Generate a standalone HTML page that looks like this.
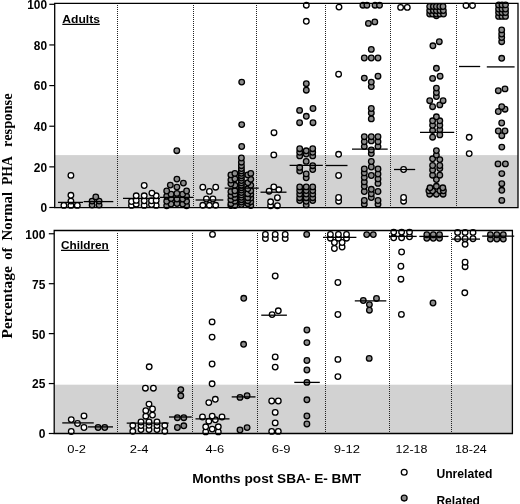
<!DOCTYPE html><html><head><meta charset="utf-8"><style>html,body{margin:0;padding:0;background:#fff;}body{width:520px;height:504px;overflow:hidden;}svg{display:block;filter:grayscale(1);}.s{font-family:"Liberation Sans",sans-serif;}.b{font-family:"Liberation Sans",sans-serif;font-weight:bold;}</style></head><body>
<svg width="520" height="504" viewBox="0 0 520 504">
<rect x="0" y="0" width="520" height="504" fill="#fff"/>
<rect x="54.7" y="155.1" width="463.3" height="52.5" fill="#d2d2d2"/>
<rect x="54.2" y="384.7" width="458.2" height="48.8" fill="#d2d2d2"/>
<line x1="117.5" y1="5" x2="117.5" y2="207.6" stroke="#222" stroke-width="1" stroke-dasharray="1 1"/>
<line x1="193.5" y1="5" x2="193.5" y2="207.6" stroke="#222" stroke-width="1" stroke-dasharray="1 1"/>
<line x1="256.5" y1="5" x2="256.5" y2="207.6" stroke="#222" stroke-width="1" stroke-dasharray="1 1"/>
<line x1="325.5" y1="5" x2="325.5" y2="207.6" stroke="#222" stroke-width="1" stroke-dasharray="1 1"/>
<line x1="390.5" y1="5" x2="390.5" y2="207.6" stroke="#222" stroke-width="1" stroke-dasharray="1 1"/>
<line x1="456.5" y1="5" x2="456.5" y2="207.6" stroke="#222" stroke-width="1" stroke-dasharray="1 1"/>
<line x1="117.5" y1="233.0" x2="117.5" y2="433.5" stroke="#222" stroke-width="1" stroke-dasharray="1 1"/>
<line x1="192.5" y1="233.0" x2="192.5" y2="433.5" stroke="#222" stroke-width="1" stroke-dasharray="1 1"/>
<line x1="257.5" y1="233.0" x2="257.5" y2="433.5" stroke="#222" stroke-width="1" stroke-dasharray="1 1"/>
<line x1="325.5" y1="233.0" x2="325.5" y2="433.5" stroke="#222" stroke-width="1" stroke-dasharray="1 1"/>
<line x1="389.5" y1="233.0" x2="389.5" y2="433.5" stroke="#222" stroke-width="1" stroke-dasharray="1 1"/>
<line x1="451.5" y1="233.0" x2="451.5" y2="433.5" stroke="#222" stroke-width="1" stroke-dasharray="1 1"/>
<circle cx="240" cy="430" r="2.8" fill="#8c8c8c" stroke="#000" stroke-width="1.3"/>
<circle cx="247.1" cy="427.6" r="2.8" fill="#8c8c8c" stroke="#000" stroke-width="1.3"/>
<circle cx="98.1" cy="427.5" r="2.8" fill="#8c8c8c" stroke="#000" stroke-width="1.3"/>
<circle cx="104.75" cy="427.5" r="2.8" fill="#8c8c8c" stroke="#000" stroke-width="1.3"/>
<circle cx="177.4" cy="427.5" r="2.8" fill="#8c8c8c" stroke="#000" stroke-width="1.3"/>
<circle cx="183.8" cy="425.8" r="2.8" fill="#8c8c8c" stroke="#000" stroke-width="1.3"/>
<circle cx="306.9" cy="424" r="2.8" fill="#8c8c8c" stroke="#000" stroke-width="1.3"/>
<circle cx="177.4" cy="417.7" r="2.8" fill="#8c8c8c" stroke="#000" stroke-width="1.3"/>
<circle cx="183.8" cy="417.7" r="2.8" fill="#8c8c8c" stroke="#000" stroke-width="1.3"/>
<circle cx="306.9" cy="416" r="2.8" fill="#8c8c8c" stroke="#000" stroke-width="1.3"/>
<circle cx="306.9" cy="399.8" r="2.8" fill="#8c8c8c" stroke="#000" stroke-width="1.3"/>
<circle cx="240" cy="397.4" r="2.8" fill="#8c8c8c" stroke="#000" stroke-width="1.3"/>
<circle cx="180.8" cy="395.8" r="2.8" fill="#8c8c8c" stroke="#000" stroke-width="1.3"/>
<circle cx="247.1" cy="395.7" r="2.8" fill="#8c8c8c" stroke="#000" stroke-width="1.3"/>
<circle cx="180.8" cy="389.6" r="2.8" fill="#8c8c8c" stroke="#000" stroke-width="1.3"/>
<circle cx="306.9" cy="382.4" r="2.8" fill="#8c8c8c" stroke="#000" stroke-width="1.3"/>
<circle cx="306.9" cy="370" r="2.8" fill="#8c8c8c" stroke="#000" stroke-width="1.3"/>
<circle cx="306.9" cy="360.5" r="2.8" fill="#8c8c8c" stroke="#000" stroke-width="1.3"/>
<circle cx="369.2" cy="358.4" r="2.8" fill="#8c8c8c" stroke="#000" stroke-width="1.3"/>
<circle cx="243.6" cy="344.3" r="2.8" fill="#8c8c8c" stroke="#000" stroke-width="1.3"/>
<circle cx="306.9" cy="342.6" r="2.8" fill="#8c8c8c" stroke="#000" stroke-width="1.3"/>
<circle cx="306.9" cy="330" r="2.8" fill="#8c8c8c" stroke="#000" stroke-width="1.3"/>
<circle cx="369.4" cy="310.2" r="2.8" fill="#8c8c8c" stroke="#000" stroke-width="1.3"/>
<circle cx="369.4" cy="304.6" r="2.8" fill="#8c8c8c" stroke="#000" stroke-width="1.3"/>
<circle cx="433" cy="303" r="2.8" fill="#8c8c8c" stroke="#000" stroke-width="1.3"/>
<circle cx="363.3" cy="300.5" r="2.8" fill="#8c8c8c" stroke="#000" stroke-width="1.3"/>
<circle cx="376.5" cy="298.5" r="2.8" fill="#8c8c8c" stroke="#000" stroke-width="1.3"/>
<circle cx="243.75" cy="298.3" r="2.8" fill="#8c8c8c" stroke="#000" stroke-width="1.3"/>
<circle cx="490.4" cy="239.1" r="2.8" fill="#8c8c8c" stroke="#000" stroke-width="1.3"/>
<circle cx="496.8" cy="239.1" r="2.8" fill="#8c8c8c" stroke="#000" stroke-width="1.3"/>
<circle cx="503.3" cy="239.1" r="2.8" fill="#8c8c8c" stroke="#000" stroke-width="1.3"/>
<circle cx="426.8" cy="238.3" r="2.8" fill="#8c8c8c" stroke="#000" stroke-width="1.3"/>
<circle cx="433.3" cy="238.3" r="2.8" fill="#8c8c8c" stroke="#000" stroke-width="1.3"/>
<circle cx="439.5" cy="238.3" r="2.8" fill="#8c8c8c" stroke="#000" stroke-width="1.3"/>
<circle cx="426.8" cy="234.7" r="2.8" fill="#8c8c8c" stroke="#000" stroke-width="1.3"/>
<circle cx="433.3" cy="234.7" r="2.8" fill="#8c8c8c" stroke="#000" stroke-width="1.3"/>
<circle cx="439.5" cy="234.7" r="2.8" fill="#8c8c8c" stroke="#000" stroke-width="1.3"/>
<circle cx="490.4" cy="234.7" r="2.8" fill="#8c8c8c" stroke="#000" stroke-width="1.3"/>
<circle cx="496.8" cy="234.7" r="2.8" fill="#8c8c8c" stroke="#000" stroke-width="1.3"/>
<circle cx="503.3" cy="234.7" r="2.8" fill="#8c8c8c" stroke="#000" stroke-width="1.3"/>
<circle cx="366.7" cy="234.6" r="2.8" fill="#8c8c8c" stroke="#000" stroke-width="1.3"/>
<circle cx="373.3" cy="234.6" r="2.8" fill="#8c8c8c" stroke="#000" stroke-width="1.3"/>
<circle cx="306.7" cy="234.4" r="2.8" fill="#8c8c8c" stroke="#000" stroke-width="1.3"/>
<circle cx="166.7" cy="205.7" r="2.8" fill="#8c8c8c" stroke="#000" stroke-width="1.3"/>
<circle cx="186.6" cy="205.7" r="2.8" fill="#8c8c8c" stroke="#000" stroke-width="1.3"/>
<circle cx="230.9" cy="205.6" r="2.8" fill="#8c8c8c" stroke="#000" stroke-width="1.3"/>
<circle cx="234.9" cy="205.6" r="2.8" fill="#8c8c8c" stroke="#000" stroke-width="1.3"/>
<circle cx="250.8" cy="205.6" r="2.8" fill="#8c8c8c" stroke="#000" stroke-width="1.3"/>
<circle cx="92.1" cy="205.1" r="2.8" fill="#8c8c8c" stroke="#000" stroke-width="1.3"/>
<circle cx="99.1" cy="205.1" r="2.8" fill="#8c8c8c" stroke="#000" stroke-width="1.3"/>
<circle cx="306.2" cy="204.9" r="2.8" fill="#8c8c8c" stroke="#000" stroke-width="1.3"/>
<circle cx="241.4" cy="204.50000000000009" r="2.8" fill="#8c8c8c" stroke="#000" stroke-width="1.3"/>
<circle cx="364.3" cy="204.2" r="2.8" fill="#8c8c8c" stroke="#000" stroke-width="1.3"/>
<circle cx="378" cy="204.2" r="2.8" fill="#8c8c8c" stroke="#000" stroke-width="1.3"/>
<circle cx="171.1" cy="204.1" r="2.8" fill="#8c8c8c" stroke="#000" stroke-width="1.3"/>
<circle cx="182.6" cy="204.1" r="2.8" fill="#8c8c8c" stroke="#000" stroke-width="1.3"/>
<circle cx="230.9" cy="203.7" r="2.8" fill="#8c8c8c" stroke="#000" stroke-width="1.3"/>
<circle cx="247.8" cy="203.7" r="2.8" fill="#8c8c8c" stroke="#000" stroke-width="1.3"/>
<circle cx="177" cy="203.5" r="2.8" fill="#8c8c8c" stroke="#000" stroke-width="1.3"/>
<circle cx="241.4" cy="202.10000000000008" r="2.8" fill="#8c8c8c" stroke="#000" stroke-width="1.3"/>
<circle cx="250.8" cy="201.7" r="2.8" fill="#8c8c8c" stroke="#000" stroke-width="1.3"/>
<circle cx="166.7" cy="201.3" r="2.8" fill="#8c8c8c" stroke="#000" stroke-width="1.3"/>
<circle cx="186.6" cy="201.3" r="2.8" fill="#8c8c8c" stroke="#000" stroke-width="1.3"/>
<circle cx="306.2" cy="201.3" r="2.8" fill="#8c8c8c" stroke="#000" stroke-width="1.3"/>
<circle cx="234.9" cy="201.2" r="2.8" fill="#8c8c8c" stroke="#000" stroke-width="1.3"/>
<circle cx="92.1" cy="201.1" r="2.8" fill="#8c8c8c" stroke="#000" stroke-width="1.3"/>
<circle cx="99.1" cy="201.1" r="2.8" fill="#8c8c8c" stroke="#000" stroke-width="1.3"/>
<circle cx="247.8" cy="200.7" r="2.8" fill="#8c8c8c" stroke="#000" stroke-width="1.3"/>
<circle cx="299.7" cy="200.6" r="2.8" fill="#8c8c8c" stroke="#000" stroke-width="1.3"/>
<circle cx="312.7" cy="200.6" r="2.8" fill="#8c8c8c" stroke="#000" stroke-width="1.3"/>
<circle cx="364.3" cy="200.5" r="2.8" fill="#8c8c8c" stroke="#000" stroke-width="1.3"/>
<circle cx="378" cy="200.5" r="2.8" fill="#8c8c8c" stroke="#000" stroke-width="1.3"/>
<circle cx="501.8" cy="200.4" r="2.8" fill="#8c8c8c" stroke="#000" stroke-width="1.3"/>
<circle cx="241.4" cy="199.70000000000007" r="2.8" fill="#8c8c8c" stroke="#000" stroke-width="1.3"/>
<circle cx="230.9" cy="199.7" r="2.8" fill="#8c8c8c" stroke="#000" stroke-width="1.3"/>
<circle cx="177" cy="199" r="2.8" fill="#8c8c8c" stroke="#000" stroke-width="1.3"/>
<circle cx="182.6" cy="199" r="2.8" fill="#8c8c8c" stroke="#000" stroke-width="1.3"/>
<circle cx="171.1" cy="198.6" r="2.8" fill="#8c8c8c" stroke="#000" stroke-width="1.3"/>
<circle cx="250.8" cy="198" r="2.8" fill="#8c8c8c" stroke="#000" stroke-width="1.3"/>
<circle cx="234.9" cy="197.7" r="2.8" fill="#8c8c8c" stroke="#000" stroke-width="1.3"/>
<circle cx="247.8" cy="197.7" r="2.8" fill="#8c8c8c" stroke="#000" stroke-width="1.3"/>
<circle cx="299.7" cy="197.7" r="2.8" fill="#8c8c8c" stroke="#000" stroke-width="1.3"/>
<circle cx="306.2" cy="197.7" r="2.8" fill="#8c8c8c" stroke="#000" stroke-width="1.3"/>
<circle cx="312.7" cy="197.7" r="2.8" fill="#8c8c8c" stroke="#000" stroke-width="1.3"/>
<circle cx="371.3" cy="197.5" r="2.8" fill="#8c8c8c" stroke="#000" stroke-width="1.3"/>
<circle cx="241.4" cy="197.30000000000007" r="2.8" fill="#8c8c8c" stroke="#000" stroke-width="1.3"/>
<circle cx="95.8" cy="196.9" r="2.8" fill="#8c8c8c" stroke="#000" stroke-width="1.3"/>
<circle cx="166.7" cy="196.2" r="2.8" fill="#8c8c8c" stroke="#000" stroke-width="1.3"/>
<circle cx="186.6" cy="196.2" r="2.8" fill="#8c8c8c" stroke="#000" stroke-width="1.3"/>
<circle cx="230.9" cy="195.7" r="2.8" fill="#8c8c8c" stroke="#000" stroke-width="1.3"/>
<circle cx="241.4" cy="194.90000000000006" r="2.8" fill="#8c8c8c" stroke="#000" stroke-width="1.3"/>
<circle cx="171.1" cy="194.2" r="2.8" fill="#8c8c8c" stroke="#000" stroke-width="1.3"/>
<circle cx="182.6" cy="194.2" r="2.8" fill="#8c8c8c" stroke="#000" stroke-width="1.3"/>
<circle cx="234.9" cy="194.2" r="2.8" fill="#8c8c8c" stroke="#000" stroke-width="1.3"/>
<circle cx="250.8" cy="194.2" r="2.8" fill="#8c8c8c" stroke="#000" stroke-width="1.3"/>
<circle cx="429.7" cy="194.2" r="2.8" fill="#8c8c8c" stroke="#000" stroke-width="1.3"/>
<circle cx="436.4" cy="194.2" r="2.8" fill="#8c8c8c" stroke="#000" stroke-width="1.3"/>
<circle cx="443.1" cy="194.2" r="2.8" fill="#8c8c8c" stroke="#000" stroke-width="1.3"/>
<circle cx="299.7" cy="194.1" r="2.8" fill="#8c8c8c" stroke="#000" stroke-width="1.3"/>
<circle cx="306.2" cy="194.1" r="2.8" fill="#8c8c8c" stroke="#000" stroke-width="1.3"/>
<circle cx="312.7" cy="194.1" r="2.8" fill="#8c8c8c" stroke="#000" stroke-width="1.3"/>
<circle cx="371.3" cy="193.8" r="2.8" fill="#8c8c8c" stroke="#000" stroke-width="1.3"/>
<circle cx="247.8" cy="193.7" r="2.8" fill="#8c8c8c" stroke="#000" stroke-width="1.3"/>
<circle cx="176.9" cy="193.4" r="2.8" fill="#8c8c8c" stroke="#000" stroke-width="1.3"/>
<circle cx="241.4" cy="192.50000000000006" r="2.8" fill="#8c8c8c" stroke="#000" stroke-width="1.3"/>
<circle cx="230.9" cy="191.7" r="2.8" fill="#8c8c8c" stroke="#000" stroke-width="1.3"/>
<circle cx="364.3" cy="191.5" r="2.8" fill="#8c8c8c" stroke="#000" stroke-width="1.3"/>
<circle cx="378" cy="191.5" r="2.8" fill="#8c8c8c" stroke="#000" stroke-width="1.3"/>
<circle cx="166.7" cy="191" r="2.8" fill="#8c8c8c" stroke="#000" stroke-width="1.3"/>
<circle cx="186.6" cy="191" r="2.8" fill="#8c8c8c" stroke="#000" stroke-width="1.3"/>
<circle cx="234.9" cy="190.8" r="2.8" fill="#8c8c8c" stroke="#000" stroke-width="1.3"/>
<circle cx="250.8" cy="190.8" r="2.8" fill="#8c8c8c" stroke="#000" stroke-width="1.3"/>
<circle cx="428.9" cy="190.8" r="2.8" fill="#8c8c8c" stroke="#000" stroke-width="1.3"/>
<circle cx="432.6" cy="190.8" r="2.8" fill="#8c8c8c" stroke="#000" stroke-width="1.3"/>
<circle cx="439.8" cy="190.8" r="2.8" fill="#8c8c8c" stroke="#000" stroke-width="1.3"/>
<circle cx="443.4" cy="190.8" r="2.8" fill="#8c8c8c" stroke="#000" stroke-width="1.3"/>
<circle cx="299.7" cy="190.5" r="2.8" fill="#8c8c8c" stroke="#000" stroke-width="1.3"/>
<circle cx="306.2" cy="190.5" r="2.8" fill="#8c8c8c" stroke="#000" stroke-width="1.3"/>
<circle cx="312.7" cy="190.5" r="2.8" fill="#8c8c8c" stroke="#000" stroke-width="1.3"/>
<circle cx="501.8" cy="190.3" r="2.8" fill="#8c8c8c" stroke="#000" stroke-width="1.3"/>
<circle cx="241.4" cy="190.10000000000005" r="2.8" fill="#8c8c8c" stroke="#000" stroke-width="1.3"/>
<circle cx="371.3" cy="189.3" r="2.8" fill="#8c8c8c" stroke="#000" stroke-width="1.3"/>
<circle cx="247.8" cy="188.8" r="2.8" fill="#8c8c8c" stroke="#000" stroke-width="1.3"/>
<circle cx="430" cy="187.8" r="2.8" fill="#8c8c8c" stroke="#000" stroke-width="1.3"/>
<circle cx="442.8" cy="187.8" r="2.8" fill="#8c8c8c" stroke="#000" stroke-width="1.3"/>
<circle cx="241.4" cy="187.70000000000005" r="2.8" fill="#8c8c8c" stroke="#000" stroke-width="1.3"/>
<circle cx="176.9" cy="187.1" r="2.8" fill="#8c8c8c" stroke="#000" stroke-width="1.3"/>
<circle cx="299.7" cy="186.9" r="2.8" fill="#8c8c8c" stroke="#000" stroke-width="1.3"/>
<circle cx="306.2" cy="186.9" r="2.8" fill="#8c8c8c" stroke="#000" stroke-width="1.3"/>
<circle cx="312.7" cy="186.9" r="2.8" fill="#8c8c8c" stroke="#000" stroke-width="1.3"/>
<circle cx="364.3" cy="186.3" r="2.8" fill="#8c8c8c" stroke="#000" stroke-width="1.3"/>
<circle cx="436.4" cy="186.3" r="2.8" fill="#8c8c8c" stroke="#000" stroke-width="1.3"/>
<circle cx="241.4" cy="185.30000000000004" r="2.8" fill="#8c8c8c" stroke="#000" stroke-width="1.3"/>
<circle cx="234.9" cy="185.3" r="2.8" fill="#8c8c8c" stroke="#000" stroke-width="1.3"/>
<circle cx="250.8" cy="185.3" r="2.8" fill="#8c8c8c" stroke="#000" stroke-width="1.3"/>
<circle cx="170.3" cy="185.1" r="2.8" fill="#8c8c8c" stroke="#000" stroke-width="1.3"/>
<circle cx="230.9" cy="183.8" r="2.8" fill="#8c8c8c" stroke="#000" stroke-width="1.3"/>
<circle cx="501.8" cy="183.7" r="2.8" fill="#8c8c8c" stroke="#000" stroke-width="1.3"/>
<circle cx="378" cy="183.4" r="2.8" fill="#8c8c8c" stroke="#000" stroke-width="1.3"/>
<circle cx="183.4" cy="183.1" r="2.8" fill="#8c8c8c" stroke="#000" stroke-width="1.3"/>
<circle cx="241.4" cy="182.90000000000003" r="2.8" fill="#8c8c8c" stroke="#000" stroke-width="1.3"/>
<circle cx="247.8" cy="182.8" r="2.8" fill="#8c8c8c" stroke="#000" stroke-width="1.3"/>
<circle cx="364.3" cy="181.9" r="2.8" fill="#8c8c8c" stroke="#000" stroke-width="1.3"/>
<circle cx="241.4" cy="180.50000000000003" r="2.8" fill="#8c8c8c" stroke="#000" stroke-width="1.3"/>
<circle cx="230.9" cy="180" r="2.8" fill="#8c8c8c" stroke="#000" stroke-width="1.3"/>
<circle cx="436.4" cy="179.6" r="2.8" fill="#8c8c8c" stroke="#000" stroke-width="1.3"/>
<circle cx="250.8" cy="179.3" r="2.8" fill="#8c8c8c" stroke="#000" stroke-width="1.3"/>
<circle cx="176.9" cy="179.1" r="2.8" fill="#8c8c8c" stroke="#000" stroke-width="1.3"/>
<circle cx="378" cy="178.9" r="2.8" fill="#8c8c8c" stroke="#000" stroke-width="1.3"/>
<circle cx="234.9" cy="178.8" r="2.8" fill="#8c8c8c" stroke="#000" stroke-width="1.3"/>
<circle cx="241.4" cy="178.10000000000002" r="2.8" fill="#8c8c8c" stroke="#000" stroke-width="1.3"/>
<circle cx="306.2" cy="177.8" r="2.8" fill="#8c8c8c" stroke="#000" stroke-width="1.3"/>
<circle cx="364.3" cy="177.4" r="2.8" fill="#8c8c8c" stroke="#000" stroke-width="1.3"/>
<circle cx="241.4" cy="175.70000000000002" r="2.8" fill="#8c8c8c" stroke="#000" stroke-width="1.3"/>
<circle cx="371.3" cy="175.5" r="2.8" fill="#8c8c8c" stroke="#000" stroke-width="1.3"/>
<circle cx="432.6" cy="175.2" r="2.8" fill="#8c8c8c" stroke="#000" stroke-width="1.3"/>
<circle cx="439.8" cy="175.2" r="2.8" fill="#8c8c8c" stroke="#000" stroke-width="1.3"/>
<circle cx="230.9" cy="174.9" r="2.8" fill="#8c8c8c" stroke="#000" stroke-width="1.3"/>
<circle cx="247.8" cy="174.9" r="2.8" fill="#8c8c8c" stroke="#000" stroke-width="1.3"/>
<circle cx="378" cy="174" r="2.8" fill="#8c8c8c" stroke="#000" stroke-width="1.3"/>
<circle cx="306.2" cy="173.9" r="2.8" fill="#8c8c8c" stroke="#000" stroke-width="1.3"/>
<circle cx="501.8" cy="173.6" r="2.8" fill="#8c8c8c" stroke="#000" stroke-width="1.3"/>
<circle cx="234.9" cy="173.4" r="2.8" fill="#8c8c8c" stroke="#000" stroke-width="1.3"/>
<circle cx="250.8" cy="173.4" r="2.8" fill="#8c8c8c" stroke="#000" stroke-width="1.3"/>
<circle cx="241.4" cy="173.3" r="2.8" fill="#8c8c8c" stroke="#000" stroke-width="1.3"/>
<circle cx="364.3" cy="172.9" r="2.8" fill="#8c8c8c" stroke="#000" stroke-width="1.3"/>
<circle cx="299.7" cy="171" r="2.8" fill="#8c8c8c" stroke="#000" stroke-width="1.3"/>
<circle cx="241.4" cy="170.9" r="2.8" fill="#8c8c8c" stroke="#000" stroke-width="1.3"/>
<circle cx="432.6" cy="170" r="2.8" fill="#8c8c8c" stroke="#000" stroke-width="1.3"/>
<circle cx="312.7" cy="169.6" r="2.8" fill="#8c8c8c" stroke="#000" stroke-width="1.3"/>
<circle cx="364.3" cy="168.9" r="2.8" fill="#8c8c8c" stroke="#000" stroke-width="1.3"/>
<circle cx="378" cy="168.9" r="2.8" fill="#8c8c8c" stroke="#000" stroke-width="1.3"/>
<circle cx="241.4" cy="168.5" r="2.8" fill="#8c8c8c" stroke="#000" stroke-width="1.3"/>
<circle cx="439.8" cy="168.5" r="2.8" fill="#8c8c8c" stroke="#000" stroke-width="1.3"/>
<circle cx="299.7" cy="167.4" r="2.8" fill="#8c8c8c" stroke="#000" stroke-width="1.3"/>
<circle cx="371.3" cy="167" r="2.8" fill="#8c8c8c" stroke="#000" stroke-width="1.3"/>
<circle cx="241.4" cy="165.7" r="2.8" fill="#8c8c8c" stroke="#000" stroke-width="1.3"/>
<circle cx="312.7" cy="165.7" r="2.8" fill="#8c8c8c" stroke="#000" stroke-width="1.3"/>
<circle cx="432.6" cy="165.5" r="2.8" fill="#8c8c8c" stroke="#000" stroke-width="1.3"/>
<circle cx="439.8" cy="165.5" r="2.8" fill="#8c8c8c" stroke="#000" stroke-width="1.3"/>
<circle cx="498" cy="163.9" r="2.8" fill="#8c8c8c" stroke="#000" stroke-width="1.3"/>
<circle cx="505.4" cy="163.9" r="2.8" fill="#8c8c8c" stroke="#000" stroke-width="1.3"/>
<circle cx="241.4" cy="162.2" r="2.8" fill="#8c8c8c" stroke="#000" stroke-width="1.3"/>
<circle cx="371.3" cy="161.5" r="2.8" fill="#8c8c8c" stroke="#000" stroke-width="1.3"/>
<circle cx="306.2" cy="161.4" r="2.8" fill="#8c8c8c" stroke="#000" stroke-width="1.3"/>
<circle cx="439.8" cy="159.6" r="2.8" fill="#8c8c8c" stroke="#000" stroke-width="1.3"/>
<circle cx="432.6" cy="158.8" r="2.8" fill="#8c8c8c" stroke="#000" stroke-width="1.3"/>
<circle cx="241.4" cy="158" r="2.8" fill="#8c8c8c" stroke="#000" stroke-width="1.3"/>
<circle cx="299.7" cy="155.9" r="2.8" fill="#8c8c8c" stroke="#000" stroke-width="1.3"/>
<circle cx="312.7" cy="155.9" r="2.8" fill="#8c8c8c" stroke="#000" stroke-width="1.3"/>
<circle cx="436.4" cy="155.1" r="2.8" fill="#8c8c8c" stroke="#000" stroke-width="1.3"/>
<circle cx="306.2" cy="154" r="2.8" fill="#8c8c8c" stroke="#000" stroke-width="1.3"/>
<circle cx="371.3" cy="153.6" r="2.8" fill="#8c8c8c" stroke="#000" stroke-width="1.3"/>
<circle cx="299.7" cy="152.3" r="2.8" fill="#8c8c8c" stroke="#000" stroke-width="1.3"/>
<circle cx="312.7" cy="152.3" r="2.8" fill="#8c8c8c" stroke="#000" stroke-width="1.3"/>
<circle cx="306.2" cy="150.8" r="2.8" fill="#8c8c8c" stroke="#000" stroke-width="1.3"/>
<circle cx="176.8" cy="150.7" r="2.8" fill="#8c8c8c" stroke="#000" stroke-width="1.3"/>
<circle cx="436.4" cy="150.6" r="2.8" fill="#8c8c8c" stroke="#000" stroke-width="1.3"/>
<circle cx="371.3" cy="149.9" r="2.8" fill="#8c8c8c" stroke="#000" stroke-width="1.3"/>
<circle cx="299.7" cy="148.7" r="2.8" fill="#8c8c8c" stroke="#000" stroke-width="1.3"/>
<circle cx="312.7" cy="148.7" r="2.8" fill="#8c8c8c" stroke="#000" stroke-width="1.3"/>
<circle cx="501.8" cy="147.1" r="2.8" fill="#8c8c8c" stroke="#000" stroke-width="1.3"/>
<circle cx="364.3" cy="146.6" r="2.8" fill="#8c8c8c" stroke="#000" stroke-width="1.3"/>
<circle cx="378" cy="146.6" r="2.8" fill="#8c8c8c" stroke="#000" stroke-width="1.3"/>
<circle cx="241.7" cy="146.5" r="2.8" fill="#8c8c8c" stroke="#000" stroke-width="1.3"/>
<circle cx="364.3" cy="141.7" r="2.8" fill="#8c8c8c" stroke="#000" stroke-width="1.3"/>
<circle cx="378" cy="141.7" r="2.8" fill="#8c8c8c" stroke="#000" stroke-width="1.3"/>
<circle cx="371.3" cy="140.9" r="2.8" fill="#8c8c8c" stroke="#000" stroke-width="1.3"/>
<circle cx="432.6" cy="137.2" r="2.8" fill="#8c8c8c" stroke="#000" stroke-width="1.3"/>
<circle cx="364.3" cy="136.7" r="2.8" fill="#8c8c8c" stroke="#000" stroke-width="1.3"/>
<circle cx="371.3" cy="136.7" r="2.8" fill="#8c8c8c" stroke="#000" stroke-width="1.3"/>
<circle cx="378" cy="136.7" r="2.8" fill="#8c8c8c" stroke="#000" stroke-width="1.3"/>
<circle cx="501.8" cy="135.7" r="2.8" fill="#8c8c8c" stroke="#000" stroke-width="1.3"/>
<circle cx="439.8" cy="134.9" r="2.8" fill="#8c8c8c" stroke="#000" stroke-width="1.3"/>
<circle cx="498.3" cy="131" r="2.8" fill="#8c8c8c" stroke="#000" stroke-width="1.3"/>
<circle cx="505" cy="131" r="2.8" fill="#8c8c8c" stroke="#000" stroke-width="1.3"/>
<circle cx="432.6" cy="130.5" r="2.8" fill="#8c8c8c" stroke="#000" stroke-width="1.3"/>
<circle cx="439.8" cy="129.7" r="2.8" fill="#8c8c8c" stroke="#000" stroke-width="1.3"/>
<circle cx="432.6" cy="125.3" r="2.8" fill="#8c8c8c" stroke="#000" stroke-width="1.3"/>
<circle cx="439.8" cy="125.3" r="2.8" fill="#8c8c8c" stroke="#000" stroke-width="1.3"/>
<circle cx="241.7" cy="124.6" r="2.8" fill="#8c8c8c" stroke="#000" stroke-width="1.3"/>
<circle cx="501.7" cy="123" r="2.8" fill="#8c8c8c" stroke="#000" stroke-width="1.3"/>
<circle cx="299.6" cy="122.7" r="2.8" fill="#8c8c8c" stroke="#000" stroke-width="1.3"/>
<circle cx="313" cy="122.7" r="2.8" fill="#8c8c8c" stroke="#000" stroke-width="1.3"/>
<circle cx="432.6" cy="120.8" r="2.8" fill="#8c8c8c" stroke="#000" stroke-width="1.3"/>
<circle cx="439.8" cy="120.8" r="2.8" fill="#8c8c8c" stroke="#000" stroke-width="1.3"/>
<circle cx="371.3" cy="118.9" r="2.8" fill="#8c8c8c" stroke="#000" stroke-width="1.3"/>
<circle cx="436.4" cy="116.8" r="2.8" fill="#8c8c8c" stroke="#000" stroke-width="1.3"/>
<circle cx="306.3" cy="116.3" r="2.8" fill="#8c8c8c" stroke="#000" stroke-width="1.3"/>
<circle cx="371.3" cy="112.9" r="2.8" fill="#8c8c8c" stroke="#000" stroke-width="1.3"/>
<circle cx="498.3" cy="111.5" r="2.8" fill="#8c8c8c" stroke="#000" stroke-width="1.3"/>
<circle cx="299.6" cy="110.4" r="2.8" fill="#8c8c8c" stroke="#000" stroke-width="1.3"/>
<circle cx="505" cy="109.2" r="2.8" fill="#8c8c8c" stroke="#000" stroke-width="1.3"/>
<circle cx="313" cy="108.5" r="2.8" fill="#8c8c8c" stroke="#000" stroke-width="1.3"/>
<circle cx="371.3" cy="108.5" r="2.8" fill="#8c8c8c" stroke="#000" stroke-width="1.3"/>
<circle cx="432.6" cy="106.7" r="2.8" fill="#8c8c8c" stroke="#000" stroke-width="1.3"/>
<circle cx="501.7" cy="106.7" r="2.8" fill="#8c8c8c" stroke="#000" stroke-width="1.3"/>
<circle cx="439.8" cy="104.9" r="2.8" fill="#8c8c8c" stroke="#000" stroke-width="1.3"/>
<circle cx="429.7" cy="100.7" r="2.8" fill="#8c8c8c" stroke="#000" stroke-width="1.3"/>
<circle cx="443.1" cy="100.7" r="2.8" fill="#8c8c8c" stroke="#000" stroke-width="1.3"/>
<circle cx="436.4" cy="96.5" r="2.8" fill="#8c8c8c" stroke="#000" stroke-width="1.3"/>
<circle cx="436.4" cy="92.5" r="2.8" fill="#8c8c8c" stroke="#000" stroke-width="1.3"/>
<circle cx="498.3" cy="90.7" r="2.8" fill="#8c8c8c" stroke="#000" stroke-width="1.3"/>
<circle cx="306.3" cy="90.2" r="2.8" fill="#8c8c8c" stroke="#000" stroke-width="1.3"/>
<circle cx="505" cy="88.9" r="2.8" fill="#8c8c8c" stroke="#000" stroke-width="1.3"/>
<circle cx="436.4" cy="88.1" r="2.8" fill="#8c8c8c" stroke="#000" stroke-width="1.3"/>
<circle cx="371.3" cy="86.6" r="2.8" fill="#8c8c8c" stroke="#000" stroke-width="1.3"/>
<circle cx="306.3" cy="83.7" r="2.8" fill="#8c8c8c" stroke="#000" stroke-width="1.3"/>
<circle cx="241.7" cy="82.1" r="2.8" fill="#8c8c8c" stroke="#000" stroke-width="1.3"/>
<circle cx="371.3" cy="82.1" r="2.8" fill="#8c8c8c" stroke="#000" stroke-width="1.3"/>
<circle cx="432.6" cy="78.4" r="2.8" fill="#8c8c8c" stroke="#000" stroke-width="1.3"/>
<circle cx="364.3" cy="78.1" r="2.8" fill="#8c8c8c" stroke="#000" stroke-width="1.3"/>
<circle cx="378" cy="76.2" r="2.8" fill="#8c8c8c" stroke="#000" stroke-width="1.3"/>
<circle cx="440.1" cy="76.2" r="2.8" fill="#8c8c8c" stroke="#000" stroke-width="1.3"/>
<circle cx="436.4" cy="68.3" r="2.8" fill="#8c8c8c" stroke="#000" stroke-width="1.3"/>
<circle cx="501.7" cy="58.3" r="2.8" fill="#8c8c8c" stroke="#000" stroke-width="1.3"/>
<circle cx="364.3" cy="58" r="2.8" fill="#8c8c8c" stroke="#000" stroke-width="1.3"/>
<circle cx="371.3" cy="58" r="2.8" fill="#8c8c8c" stroke="#000" stroke-width="1.3"/>
<circle cx="378" cy="58" r="2.8" fill="#8c8c8c" stroke="#000" stroke-width="1.3"/>
<circle cx="371.3" cy="49.4" r="2.8" fill="#8c8c8c" stroke="#000" stroke-width="1.3"/>
<circle cx="432.9" cy="45.8" r="2.8" fill="#8c8c8c" stroke="#000" stroke-width="1.3"/>
<circle cx="439.3" cy="41.7" r="2.8" fill="#8c8c8c" stroke="#000" stroke-width="1.3"/>
<circle cx="501.7" cy="41.7" r="2.8" fill="#8c8c8c" stroke="#000" stroke-width="1.3"/>
<circle cx="501.7" cy="37.5" r="2.8" fill="#8c8c8c" stroke="#000" stroke-width="1.3"/>
<circle cx="501.7" cy="34" r="2.8" fill="#8c8c8c" stroke="#000" stroke-width="1.3"/>
<circle cx="501.7" cy="29.9" r="2.8" fill="#8c8c8c" stroke="#000" stroke-width="1.3"/>
<circle cx="368.4" cy="23.4" r="2.8" fill="#8c8c8c" stroke="#000" stroke-width="1.3"/>
<circle cx="374.8" cy="21.9" r="2.8" fill="#8c8c8c" stroke="#000" stroke-width="1.3"/>
<circle cx="498.6" cy="16.4" r="2.8" fill="#8c8c8c" stroke="#000" stroke-width="1.3"/>
<circle cx="502" cy="16.4" r="2.8" fill="#8c8c8c" stroke="#000" stroke-width="1.3"/>
<circle cx="505.5" cy="16.4" r="2.8" fill="#8c8c8c" stroke="#000" stroke-width="1.3"/>
<circle cx="436.4" cy="15.8" r="2.8" fill="#8c8c8c" stroke="#000" stroke-width="1.3"/>
<circle cx="429.7" cy="14" r="2.8" fill="#8c8c8c" stroke="#000" stroke-width="1.3"/>
<circle cx="432.6" cy="14" r="2.8" fill="#8c8c8c" stroke="#000" stroke-width="1.3"/>
<circle cx="436.4" cy="14" r="2.8" fill="#8c8c8c" stroke="#000" stroke-width="1.3"/>
<circle cx="440" cy="14" r="2.8" fill="#8c8c8c" stroke="#000" stroke-width="1.3"/>
<circle cx="443.5" cy="14" r="2.8" fill="#8c8c8c" stroke="#000" stroke-width="1.3"/>
<circle cx="498.6" cy="12.5" r="2.8" fill="#8c8c8c" stroke="#000" stroke-width="1.3"/>
<circle cx="502" cy="12.5" r="2.8" fill="#8c8c8c" stroke="#000" stroke-width="1.3"/>
<circle cx="505.5" cy="12.5" r="2.8" fill="#8c8c8c" stroke="#000" stroke-width="1.3"/>
<circle cx="429.7" cy="10.5" r="2.8" fill="#8c8c8c" stroke="#000" stroke-width="1.3"/>
<circle cx="433.4" cy="10.5" r="2.8" fill="#8c8c8c" stroke="#000" stroke-width="1.3"/>
<circle cx="436.4" cy="10.5" r="2.8" fill="#8c8c8c" stroke="#000" stroke-width="1.3"/>
<circle cx="440" cy="10.5" r="2.8" fill="#8c8c8c" stroke="#000" stroke-width="1.3"/>
<circle cx="443.3" cy="10.5" r="2.8" fill="#8c8c8c" stroke="#000" stroke-width="1.3"/>
<circle cx="498.6" cy="9" r="2.8" fill="#8c8c8c" stroke="#000" stroke-width="1.3"/>
<circle cx="502" cy="9" r="2.8" fill="#8c8c8c" stroke="#000" stroke-width="1.3"/>
<circle cx="505.5" cy="9" r="2.8" fill="#8c8c8c" stroke="#000" stroke-width="1.3"/>
<circle cx="429.7" cy="6.5" r="2.8" fill="#8c8c8c" stroke="#000" stroke-width="1.3"/>
<circle cx="433.4" cy="6.5" r="2.8" fill="#8c8c8c" stroke="#000" stroke-width="1.3"/>
<circle cx="436.4" cy="6.5" r="2.8" fill="#8c8c8c" stroke="#000" stroke-width="1.3"/>
<circle cx="439.8" cy="6.5" r="2.8" fill="#8c8c8c" stroke="#000" stroke-width="1.3"/>
<circle cx="443" cy="6.5" r="2.8" fill="#8c8c8c" stroke="#000" stroke-width="1.3"/>
<circle cx="362.9" cy="5.2" r="2.8" fill="#8c8c8c" stroke="#000" stroke-width="1.3"/>
<circle cx="366.9" cy="5.2" r="2.8" fill="#8c8c8c" stroke="#000" stroke-width="1.3"/>
<circle cx="375" cy="5.2" r="2.8" fill="#8c8c8c" stroke="#000" stroke-width="1.3"/>
<circle cx="379.5" cy="5.2" r="2.8" fill="#8c8c8c" stroke="#000" stroke-width="1.3"/>
<circle cx="498.6" cy="4.9" r="2.8" fill="#8c8c8c" stroke="#000" stroke-width="1.3"/>
<circle cx="502" cy="4.9" r="2.8" fill="#8c8c8c" stroke="#000" stroke-width="1.3"/>
<circle cx="505.5" cy="4.9" r="2.8" fill="#8c8c8c" stroke="#000" stroke-width="1.3"/>
<circle cx="205.7" cy="431.9" r="2.8" fill="#fff" stroke="#000" stroke-width="1.3"/>
<circle cx="218.3" cy="431.9" r="2.8" fill="#fff" stroke="#000" stroke-width="1.3"/>
<circle cx="71.25" cy="431.5" r="2.8" fill="#fff" stroke="#000" stroke-width="1.3"/>
<circle cx="271.7" cy="431.4" r="2.8" fill="#fff" stroke="#000" stroke-width="1.3"/>
<circle cx="278.3" cy="431.4" r="2.8" fill="#fff" stroke="#000" stroke-width="1.3"/>
<circle cx="132.8" cy="431.3" r="2.8" fill="#fff" stroke="#000" stroke-width="1.3"/>
<circle cx="164.8" cy="431.3" r="2.8" fill="#fff" stroke="#000" stroke-width="1.3"/>
<circle cx="141" cy="429.6" r="2.8" fill="#fff" stroke="#000" stroke-width="1.3"/>
<circle cx="149" cy="429.6" r="2.8" fill="#fff" stroke="#000" stroke-width="1.3"/>
<circle cx="157" cy="429.6" r="2.8" fill="#fff" stroke="#000" stroke-width="1.3"/>
<circle cx="212.2" cy="429.1" r="2.8" fill="#fff" stroke="#000" stroke-width="1.3"/>
<circle cx="84" cy="427.5" r="2.8" fill="#fff" stroke="#000" stroke-width="1.3"/>
<circle cx="205.7" cy="426.8" r="2.8" fill="#fff" stroke="#000" stroke-width="1.3"/>
<circle cx="218.3" cy="426.8" r="2.8" fill="#fff" stroke="#000" stroke-width="1.3"/>
<circle cx="141" cy="425.5" r="2.8" fill="#fff" stroke="#000" stroke-width="1.3"/>
<circle cx="157" cy="425.5" r="2.8" fill="#fff" stroke="#000" stroke-width="1.3"/>
<circle cx="132.8" cy="425.4" r="2.8" fill="#fff" stroke="#000" stroke-width="1.3"/>
<circle cx="164.8" cy="425.4" r="2.8" fill="#fff" stroke="#000" stroke-width="1.3"/>
<circle cx="149" cy="425.3" r="2.8" fill="#fff" stroke="#000" stroke-width="1.3"/>
<circle cx="77.5" cy="423.5" r="2.8" fill="#fff" stroke="#000" stroke-width="1.3"/>
<circle cx="275.2" cy="422.9" r="2.8" fill="#fff" stroke="#000" stroke-width="1.3"/>
<circle cx="141" cy="422" r="2.8" fill="#fff" stroke="#000" stroke-width="1.3"/>
<circle cx="149" cy="422" r="2.8" fill="#fff" stroke="#000" stroke-width="1.3"/>
<circle cx="157" cy="422" r="2.8" fill="#fff" stroke="#000" stroke-width="1.3"/>
<circle cx="208.8" cy="421.2" r="2.8" fill="#fff" stroke="#000" stroke-width="1.3"/>
<circle cx="215.3" cy="419.8" r="2.8" fill="#fff" stroke="#000" stroke-width="1.3"/>
<circle cx="71.25" cy="419.6" r="2.8" fill="#fff" stroke="#000" stroke-width="1.3"/>
<circle cx="202.5" cy="417" r="2.8" fill="#fff" stroke="#000" stroke-width="1.3"/>
<circle cx="222" cy="417" r="2.8" fill="#fff" stroke="#000" stroke-width="1.3"/>
<circle cx="145.8" cy="416.2" r="2.8" fill="#fff" stroke="#000" stroke-width="1.3"/>
<circle cx="212.2" cy="416.1" r="2.8" fill="#fff" stroke="#000" stroke-width="1.3"/>
<circle cx="84" cy="415.9" r="2.8" fill="#fff" stroke="#000" stroke-width="1.3"/>
<circle cx="152.5" cy="415.1" r="2.8" fill="#fff" stroke="#000" stroke-width="1.3"/>
<circle cx="275.2" cy="412.4" r="2.8" fill="#fff" stroke="#000" stroke-width="1.3"/>
<circle cx="145.8" cy="410.7" r="2.8" fill="#fff" stroke="#000" stroke-width="1.3"/>
<circle cx="152.5" cy="409" r="2.8" fill="#fff" stroke="#000" stroke-width="1.3"/>
<circle cx="149" cy="404.1" r="2.8" fill="#fff" stroke="#000" stroke-width="1.3"/>
<circle cx="208.8" cy="402.6" r="2.8" fill="#fff" stroke="#000" stroke-width="1.3"/>
<circle cx="271.7" cy="401" r="2.8" fill="#fff" stroke="#000" stroke-width="1.3"/>
<circle cx="278.3" cy="401" r="2.8" fill="#fff" stroke="#000" stroke-width="1.3"/>
<circle cx="215.3" cy="399.3" r="2.8" fill="#fff" stroke="#000" stroke-width="1.3"/>
<circle cx="145.4" cy="388.2" r="2.8" fill="#fff" stroke="#000" stroke-width="1.3"/>
<circle cx="153.4" cy="388.2" r="2.8" fill="#fff" stroke="#000" stroke-width="1.3"/>
<circle cx="212.1" cy="383.8" r="2.8" fill="#fff" stroke="#000" stroke-width="1.3"/>
<circle cx="337.9" cy="376.6" r="2.8" fill="#fff" stroke="#000" stroke-width="1.3"/>
<circle cx="275.2" cy="367.1" r="2.8" fill="#fff" stroke="#000" stroke-width="1.3"/>
<circle cx="149.2" cy="366.8" r="2.8" fill="#fff" stroke="#000" stroke-width="1.3"/>
<circle cx="212.1" cy="364" r="2.8" fill="#fff" stroke="#000" stroke-width="1.3"/>
<circle cx="337.9" cy="359.4" r="2.8" fill="#fff" stroke="#000" stroke-width="1.3"/>
<circle cx="275.2" cy="356.9" r="2.8" fill="#fff" stroke="#000" stroke-width="1.3"/>
<circle cx="212.1" cy="337.1" r="2.8" fill="#fff" stroke="#000" stroke-width="1.3"/>
<circle cx="212.1" cy="321.9" r="2.8" fill="#fff" stroke="#000" stroke-width="1.3"/>
<circle cx="272.1" cy="314.6" r="2.8" fill="#fff" stroke="#000" stroke-width="1.3"/>
<circle cx="337.9" cy="314.5" r="2.8" fill="#fff" stroke="#000" stroke-width="1.3"/>
<circle cx="401.4" cy="314.4" r="2.8" fill="#fff" stroke="#000" stroke-width="1.3"/>
<circle cx="278.3" cy="310.8" r="2.8" fill="#fff" stroke="#000" stroke-width="1.3"/>
<circle cx="464.8" cy="292.8" r="2.8" fill="#fff" stroke="#000" stroke-width="1.3"/>
<circle cx="337.9" cy="282.5" r="2.8" fill="#fff" stroke="#000" stroke-width="1.3"/>
<circle cx="400.9" cy="279.2" r="2.8" fill="#fff" stroke="#000" stroke-width="1.3"/>
<circle cx="275.2" cy="276" r="2.8" fill="#fff" stroke="#000" stroke-width="1.3"/>
<circle cx="465.1" cy="266.7" r="2.8" fill="#fff" stroke="#000" stroke-width="1.3"/>
<circle cx="400.9" cy="266.25" r="2.8" fill="#fff" stroke="#000" stroke-width="1.3"/>
<circle cx="465.1" cy="262.2" r="2.8" fill="#fff" stroke="#000" stroke-width="1.3"/>
<circle cx="401.6" cy="252" r="2.8" fill="#fff" stroke="#000" stroke-width="1.3"/>
<circle cx="334.4" cy="248.5" r="2.8" fill="#fff" stroke="#000" stroke-width="1.3"/>
<circle cx="342.1" cy="247" r="2.8" fill="#fff" stroke="#000" stroke-width="1.3"/>
<circle cx="465.1" cy="244.3" r="2.8" fill="#fff" stroke="#000" stroke-width="1.3"/>
<circle cx="334.4" cy="242.5" r="2.8" fill="#fff" stroke="#000" stroke-width="1.3"/>
<circle cx="342.1" cy="242.5" r="2.8" fill="#fff" stroke="#000" stroke-width="1.3"/>
<circle cx="457.6" cy="238.7" r="2.8" fill="#fff" stroke="#000" stroke-width="1.3"/>
<circle cx="465.1" cy="238.7" r="2.8" fill="#fff" stroke="#000" stroke-width="1.3"/>
<circle cx="473" cy="238.7" r="2.8" fill="#fff" stroke="#000" stroke-width="1.3"/>
<circle cx="265.4" cy="238.5" r="2.8" fill="#fff" stroke="#000" stroke-width="1.3"/>
<circle cx="275.2" cy="238.5" r="2.8" fill="#fff" stroke="#000" stroke-width="1.3"/>
<circle cx="285.2" cy="238.5" r="2.8" fill="#fff" stroke="#000" stroke-width="1.3"/>
<circle cx="330.4" cy="238.2" r="2.8" fill="#fff" stroke="#000" stroke-width="1.3"/>
<circle cx="338.4" cy="238.2" r="2.8" fill="#fff" stroke="#000" stroke-width="1.3"/>
<circle cx="346.5" cy="238.2" r="2.8" fill="#fff" stroke="#000" stroke-width="1.3"/>
<circle cx="393.7" cy="237.8" r="2.8" fill="#fff" stroke="#000" stroke-width="1.3"/>
<circle cx="401.6" cy="237.8" r="2.8" fill="#fff" stroke="#000" stroke-width="1.3"/>
<circle cx="409.5" cy="236.8" r="2.8" fill="#fff" stroke="#000" stroke-width="1.3"/>
<circle cx="212.5" cy="234.4" r="2.8" fill="#fff" stroke="#000" stroke-width="1.3"/>
<circle cx="265.4" cy="234.4" r="2.8" fill="#fff" stroke="#000" stroke-width="1.3"/>
<circle cx="275.2" cy="234.4" r="2.8" fill="#fff" stroke="#000" stroke-width="1.3"/>
<circle cx="285.2" cy="234.4" r="2.8" fill="#fff" stroke="#000" stroke-width="1.3"/>
<circle cx="330.4" cy="234.4" r="2.8" fill="#fff" stroke="#000" stroke-width="1.3"/>
<circle cx="338.4" cy="234.4" r="2.8" fill="#fff" stroke="#000" stroke-width="1.3"/>
<circle cx="346.5" cy="234.4" r="2.8" fill="#fff" stroke="#000" stroke-width="1.3"/>
<circle cx="457.6" cy="232.4" r="2.8" fill="#fff" stroke="#000" stroke-width="1.3"/>
<circle cx="465.1" cy="232.4" r="2.8" fill="#fff" stroke="#000" stroke-width="1.3"/>
<circle cx="473" cy="232.4" r="2.8" fill="#fff" stroke="#000" stroke-width="1.3"/>
<circle cx="393.7" cy="232.1" r="2.8" fill="#fff" stroke="#000" stroke-width="1.3"/>
<circle cx="401.6" cy="232.1" r="2.8" fill="#fff" stroke="#000" stroke-width="1.3"/>
<circle cx="409.5" cy="232.1" r="2.8" fill="#fff" stroke="#000" stroke-width="1.3"/>
<circle cx="270.6" cy="205.7" r="2.8" fill="#fff" stroke="#000" stroke-width="1.3"/>
<circle cx="277.4" cy="205.7" r="2.8" fill="#fff" stroke="#000" stroke-width="1.3"/>
<circle cx="63.9" cy="205.4" r="2.8" fill="#fff" stroke="#000" stroke-width="1.3"/>
<circle cx="70.9" cy="205.4" r="2.8" fill="#fff" stroke="#000" stroke-width="1.3"/>
<circle cx="77.3" cy="205.4" r="2.8" fill="#fff" stroke="#000" stroke-width="1.3"/>
<circle cx="131.5" cy="205.4" r="2.8" fill="#fff" stroke="#000" stroke-width="1.3"/>
<circle cx="144.2" cy="205.4" r="2.8" fill="#fff" stroke="#000" stroke-width="1.3"/>
<circle cx="156.2" cy="205.4" r="2.8" fill="#fff" stroke="#000" stroke-width="1.3"/>
<circle cx="202.8" cy="205.3" r="2.8" fill="#fff" stroke="#000" stroke-width="1.3"/>
<circle cx="209.4" cy="205.3" r="2.8" fill="#fff" stroke="#000" stroke-width="1.3"/>
<circle cx="215.7" cy="205.3" r="2.8" fill="#fff" stroke="#000" stroke-width="1.3"/>
<circle cx="151.5" cy="204.6" r="2.8" fill="#fff" stroke="#000" stroke-width="1.3"/>
<circle cx="136.2" cy="204.2" r="2.8" fill="#fff" stroke="#000" stroke-width="1.3"/>
<circle cx="270.6" cy="201.8" r="2.8" fill="#fff" stroke="#000" stroke-width="1.3"/>
<circle cx="131.5" cy="201.5" r="2.8" fill="#fff" stroke="#000" stroke-width="1.3"/>
<circle cx="338.6" cy="201.2" r="2.8" fill="#fff" stroke="#000" stroke-width="1.3"/>
<circle cx="403.6" cy="201.2" r="2.8" fill="#fff" stroke="#000" stroke-width="1.3"/>
<circle cx="70.9" cy="201.1" r="2.8" fill="#fff" stroke="#000" stroke-width="1.3"/>
<circle cx="144.2" cy="200.8" r="2.8" fill="#fff" stroke="#000" stroke-width="1.3"/>
<circle cx="151.5" cy="200.8" r="2.8" fill="#fff" stroke="#000" stroke-width="1.3"/>
<circle cx="136.2" cy="200.4" r="2.8" fill="#fff" stroke="#000" stroke-width="1.3"/>
<circle cx="156.2" cy="200.4" r="2.8" fill="#fff" stroke="#000" stroke-width="1.3"/>
<circle cx="206.4" cy="199" r="2.8" fill="#fff" stroke="#000" stroke-width="1.3"/>
<circle cx="212.9" cy="199" r="2.8" fill="#fff" stroke="#000" stroke-width="1.3"/>
<circle cx="277.4" cy="197.7" r="2.8" fill="#fff" stroke="#000" stroke-width="1.3"/>
<circle cx="338.6" cy="197.5" r="2.8" fill="#fff" stroke="#000" stroke-width="1.3"/>
<circle cx="403.6" cy="197.5" r="2.8" fill="#fff" stroke="#000" stroke-width="1.3"/>
<circle cx="136.2" cy="195.8" r="2.8" fill="#fff" stroke="#000" stroke-width="1.3"/>
<circle cx="144.2" cy="195.8" r="2.8" fill="#fff" stroke="#000" stroke-width="1.3"/>
<circle cx="156.2" cy="195.8" r="2.8" fill="#fff" stroke="#000" stroke-width="1.3"/>
<circle cx="70.9" cy="195.3" r="2.8" fill="#fff" stroke="#000" stroke-width="1.3"/>
<circle cx="151.9" cy="193.1" r="2.8" fill="#fff" stroke="#000" stroke-width="1.3"/>
<circle cx="209.4" cy="191.4" r="2.8" fill="#fff" stroke="#000" stroke-width="1.3"/>
<circle cx="269.1" cy="191.2" r="2.8" fill="#fff" stroke="#000" stroke-width="1.3"/>
<circle cx="278.8" cy="189.8" r="2.8" fill="#fff" stroke="#000" stroke-width="1.3"/>
<circle cx="202.8" cy="187.2" r="2.8" fill="#fff" stroke="#000" stroke-width="1.3"/>
<circle cx="215.7" cy="187.2" r="2.8" fill="#fff" stroke="#000" stroke-width="1.3"/>
<circle cx="273.8" cy="186.9" r="2.8" fill="#fff" stroke="#000" stroke-width="1.3"/>
<circle cx="144.2" cy="185.5" r="2.8" fill="#fff" stroke="#000" stroke-width="1.3"/>
<circle cx="338.6" cy="175.5" r="2.8" fill="#fff" stroke="#000" stroke-width="1.3"/>
<circle cx="70.9" cy="175.4" r="2.8" fill="#fff" stroke="#000" stroke-width="1.3"/>
<circle cx="403.6" cy="169.5" r="2.8" fill="#fff" stroke="#000" stroke-width="1.3"/>
<circle cx="273.8" cy="154.9" r="2.8" fill="#fff" stroke="#000" stroke-width="1.3"/>
<circle cx="338.6" cy="154.3" r="2.8" fill="#fff" stroke="#000" stroke-width="1.3"/>
<circle cx="469.2" cy="153.6" r="2.8" fill="#fff" stroke="#000" stroke-width="1.3"/>
<circle cx="469.2" cy="137.3" r="2.8" fill="#fff" stroke="#000" stroke-width="1.3"/>
<circle cx="274" cy="132.7" r="2.8" fill="#fff" stroke="#000" stroke-width="1.3"/>
<circle cx="338.6" cy="74.2" r="2.8" fill="#fff" stroke="#000" stroke-width="1.3"/>
<circle cx="306.3" cy="21.3" r="2.8" fill="#fff" stroke="#000" stroke-width="1.3"/>
<circle cx="400.6" cy="7.4" r="2.8" fill="#fff" stroke="#000" stroke-width="1.3"/>
<circle cx="407.3" cy="7.4" r="2.8" fill="#fff" stroke="#000" stroke-width="1.3"/>
<circle cx="339" cy="7.1" r="2.8" fill="#fff" stroke="#000" stroke-width="1.3"/>
<circle cx="466" cy="5.6" r="2.8" fill="#fff" stroke="#000" stroke-width="1.3"/>
<circle cx="472.5" cy="5.6" r="2.8" fill="#fff" stroke="#000" stroke-width="1.3"/>
<circle cx="306.3" cy="5.2" r="2.8" fill="#fff" stroke="#000" stroke-width="1.3"/>
<line x1="58" y1="202.4" x2="83" y2="202.4" stroke="#000" stroke-width="1.3"/>
<line x1="83.6" y1="201.6" x2="113.3" y2="201.6" stroke="#000" stroke-width="1.3"/>
<line x1="123" y1="198.3" x2="160" y2="198.3" stroke="#000" stroke-width="1.3"/>
<line x1="160" y1="197.4" x2="193" y2="197.4" stroke="#000" stroke-width="1.3"/>
<line x1="195.6" y1="200" x2="223.3" y2="200" stroke="#000" stroke-width="1.3"/>
<line x1="224.7" y1="188.1" x2="258.7" y2="188.1" stroke="#000" stroke-width="1.3"/>
<line x1="260.5" y1="192.2" x2="286.5" y2="192.2" stroke="#000" stroke-width="1.3"/>
<line x1="289.6" y1="165.3" x2="322.8" y2="165.3" stroke="#000" stroke-width="1.3"/>
<line x1="326" y1="165.5" x2="347.5" y2="165.5" stroke="#000" stroke-width="1.3"/>
<line x1="352" y1="149.1" x2="387.7" y2="149.1" stroke="#000" stroke-width="1.3"/>
<line x1="394" y1="169.5" x2="415.2" y2="169.5" stroke="#000" stroke-width="1.3"/>
<line x1="420" y1="132.4" x2="454.2" y2="132.4" stroke="#000" stroke-width="1.3"/>
<line x1="459" y1="66.5" x2="480.2" y2="66.5" stroke="#000" stroke-width="1.3"/>
<line x1="486.8" y1="66.9" x2="514.6" y2="66.9" stroke="#000" stroke-width="1.3"/>
<line x1="62.25" y1="422.9" x2="93.75" y2="422.9" stroke="#000" stroke-width="1.3"/>
<line x1="88" y1="426.9" x2="113" y2="426.9" stroke="#000" stroke-width="1.3"/>
<line x1="126.7" y1="423.1" x2="168.7" y2="423.1" stroke="#000" stroke-width="1.3"/>
<line x1="169" y1="417" x2="191.7" y2="417" stroke="#000" stroke-width="1.3"/>
<line x1="195.5" y1="418.9" x2="229.5" y2="418.9" stroke="#000" stroke-width="1.3"/>
<line x1="231.7" y1="396.9" x2="255.5" y2="396.9" stroke="#000" stroke-width="1.3"/>
<line x1="261.25" y1="315.2" x2="286.9" y2="315.2" stroke="#000" stroke-width="1.3"/>
<line x1="294.3" y1="382.4" x2="319.8" y2="382.4" stroke="#000" stroke-width="1.3"/>
<line x1="323" y1="237.4" x2="356.4" y2="237.4" stroke="#000" stroke-width="1.3"/>
<line x1="354.8" y1="300.8" x2="386.3" y2="300.8" stroke="#000" stroke-width="1.3"/>
<line x1="389" y1="236.4" x2="416.7" y2="236.4" stroke="#000" stroke-width="1.3"/>
<line x1="419.3" y1="236.4" x2="448.5" y2="236.4" stroke="#000" stroke-width="1.3"/>
<line x1="451.7" y1="239.1" x2="480" y2="239.1" stroke="#000" stroke-width="1.3"/>
<line x1="482.2" y1="236.2" x2="514.2" y2="236.2" stroke="#000" stroke-width="1.3"/>
<path d="M54.7 3.3 H518.0 V207.6 H54.7 Z" fill="none" stroke="#000" stroke-width="1.3"/>
<path d="M54.2 230.5 H512.4 V433.5 H54.2 Z" fill="none" stroke="#000" stroke-width="1.3"/>
<line x1="49.3" y1="207.50" x2="54.7" y2="207.50" stroke="#000" stroke-width="1.2"/>
<text class="b" x="47.1" y="212.30" font-size="11.9" text-anchor="end">0</text>
<line x1="49.3" y1="166.86" x2="54.7" y2="166.86" stroke="#000" stroke-width="1.2"/>
<text class="b" x="47.1" y="171.66" font-size="11.9" text-anchor="end">20</text>
<line x1="49.3" y1="126.22" x2="54.7" y2="126.22" stroke="#000" stroke-width="1.2"/>
<text class="b" x="47.1" y="131.02" font-size="11.9" text-anchor="end">40</text>
<line x1="49.3" y1="85.58" x2="54.7" y2="85.58" stroke="#000" stroke-width="1.2"/>
<text class="b" x="47.1" y="90.38" font-size="11.9" text-anchor="end">60</text>
<line x1="49.3" y1="44.94" x2="54.7" y2="44.94" stroke="#000" stroke-width="1.2"/>
<text class="b" x="47.1" y="49.74" font-size="11.9" text-anchor="end">80</text>
<line x1="49.3" y1="4.30" x2="54.7" y2="4.30" stroke="#000" stroke-width="1.2"/>
<text class="b" x="47.1" y="9.10" font-size="11.9" text-anchor="end">100</text>
<line x1="48.8" y1="433.50" x2="54.2" y2="433.50" stroke="#000" stroke-width="1.2"/>
<text class="b" x="45.4" y="438.40" font-size="12" text-anchor="end">0</text>
<line x1="48.8" y1="383.56" x2="54.2" y2="383.56" stroke="#000" stroke-width="1.2"/>
<text class="b" x="45.4" y="388.46" font-size="12" text-anchor="end">25</text>
<line x1="48.8" y1="333.62" x2="54.2" y2="333.62" stroke="#000" stroke-width="1.2"/>
<text class="b" x="45.4" y="338.52" font-size="12" text-anchor="end">50</text>
<line x1="48.8" y1="283.69" x2="54.2" y2="283.69" stroke="#000" stroke-width="1.2"/>
<text class="b" x="45.4" y="288.59" font-size="12" text-anchor="end">75</text>
<line x1="48.8" y1="233.75" x2="54.2" y2="233.75" stroke="#000" stroke-width="1.2"/>
<text class="b" x="45.4" y="238.65" font-size="12" text-anchor="end">100</text>
<text class="b" x="62.3" y="22.9" font-size="10.6" textLength="37.6" lengthAdjust="spacingAndGlyphs">Adults</text>
<line x1="62.3" y1="24.4" x2="99.8" y2="24.4" stroke="#000" stroke-width="1.1"/>
<text class="b" x="61.0" y="248.5" font-size="10.3" textLength="47.8" lengthAdjust="spacingAndGlyphs">Children</text>
<line x1="61" y1="250.4" x2="109.3" y2="250.4" stroke="#000" stroke-width="1.1"/>
<text class="s" x="67.30" y="452.6" font-size="11.6" textLength="18.70" lengthAdjust="spacingAndGlyphs">0-2</text>
<text class="s" x="129.80" y="452.6" font-size="11.6" textLength="18.70" lengthAdjust="spacingAndGlyphs">2-4</text>
<text class="s" x="205.55" y="452.6" font-size="11.6" textLength="18.70" lengthAdjust="spacingAndGlyphs">4-6</text>
<text class="s" x="271.80" y="452.6" font-size="11.6" textLength="18.70" lengthAdjust="spacingAndGlyphs">6-9</text>
<text class="s" x="333.80" y="452.6" font-size="11.6" textLength="26.20" lengthAdjust="spacingAndGlyphs">9-12</text>
<text class="s" x="395.55" y="452.6" font-size="11.6" textLength="31.95" lengthAdjust="spacingAndGlyphs">12-18</text>
<text class="s" x="454.90" y="452.6" font-size="11.6" textLength="31.90" lengthAdjust="spacingAndGlyphs">18-24</text>
<text class="b" x="192.2" y="482.6" font-size="12.8" textLength="169" lengthAdjust="spacingAndGlyphs">Months post SBA- E- BMT</text>
<circle cx="404.2" cy="472.2" r="2.9" fill="#fff" stroke="#000" stroke-width="1.3"/>
<circle cx="404.2" cy="498.1" r="2.9" fill="#8c8c8c" stroke="#000" stroke-width="1.3"/>
<text class="b" x="436.4" y="478.0" font-size="12" textLength="56" lengthAdjust="spacingAndGlyphs">Unrelated</text>
<text class="b" x="436.4" y="504.8" font-size="12" textLength="43.6" lengthAdjust="spacingAndGlyphs">Related</text>
<text x="11.6" y="338.50" font-family="Liberation Serif, serif" font-weight="bold" font-size="14" textLength="72.30" lengthAdjust="spacingAndGlyphs" transform="rotate(-90 11.6 338.50)">Percentage</text>
<text x="11.6" y="259.70" font-family="Liberation Serif, serif" font-weight="bold" font-size="14" textLength="12.20" lengthAdjust="spacingAndGlyphs" transform="rotate(-90 11.6 259.70)">of</text>
<text x="11.6" y="240.40" font-family="Liberation Serif, serif" font-weight="bold" font-size="14" textLength="48.50" lengthAdjust="spacingAndGlyphs" transform="rotate(-90 11.6 240.40)">Normal</text>
<text x="11.6" y="185.10" font-family="Liberation Serif, serif" font-weight="bold" font-size="14" textLength="28.90" lengthAdjust="spacingAndGlyphs" transform="rotate(-90 11.6 185.10)">PHA</text>
<text x="11.6" y="147.00" font-family="Liberation Serif, serif" font-weight="bold" font-size="14" textLength="53.60" lengthAdjust="spacingAndGlyphs" transform="rotate(-90 11.6 147.00)">response</text>
</svg></body></html>
